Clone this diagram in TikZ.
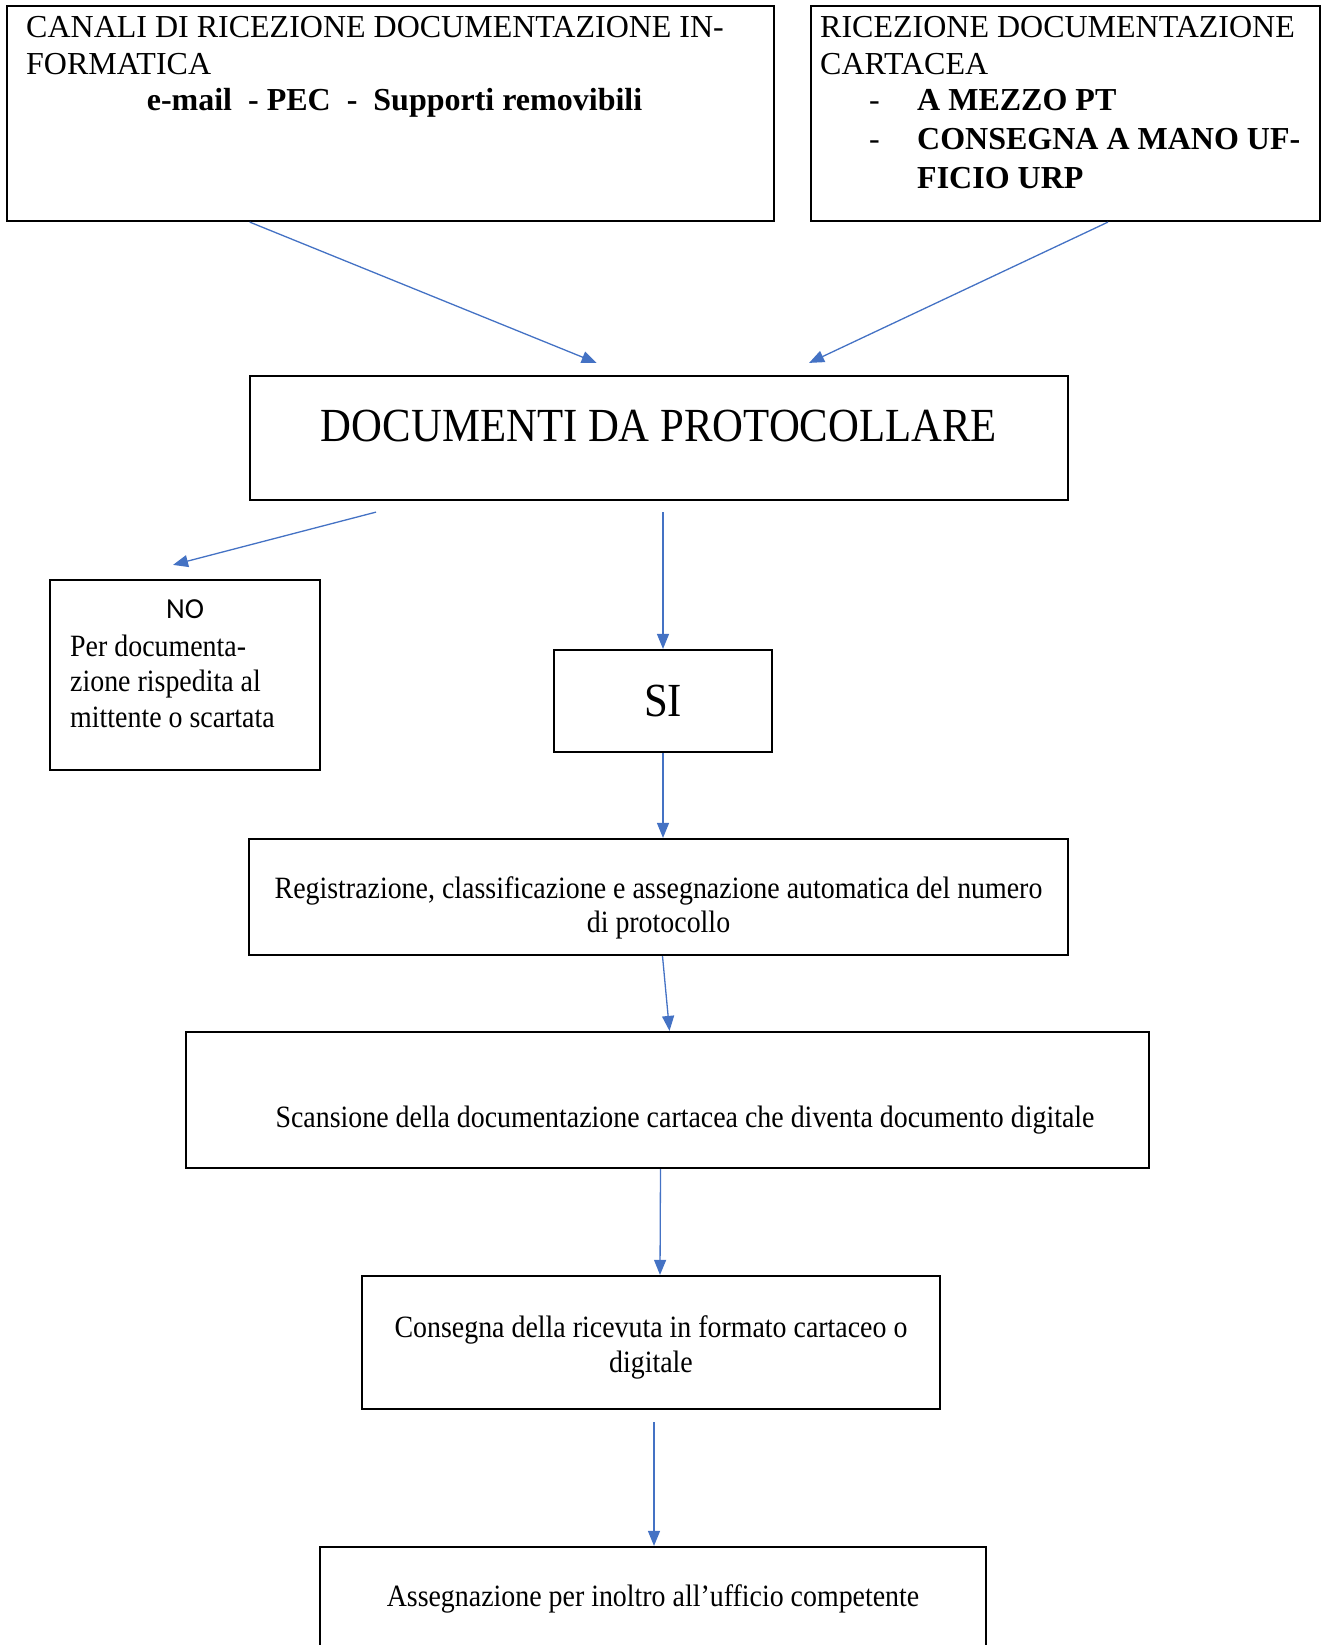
\documentclass[tikz,border=0pt]{standalone}
\usepackage{xcolor}
\usepackage{fontspec}
\setmainfont{Liberation Serif}
\newfontfamily\garfont[FakeStretch=0.9]{Liberation Serif}
\newfontfamily\calfont{Carlito}
\usetikzlibrary{arrows.meta,calc,positioning}
\definecolor{linkblue}{HTML}{4472C4}

\begin{document}
\begin{tikzpicture}[x=1pt,y=-1pt]
		\tikzstyle{every node}=[inner sep=0pt, font=\fontsize{32}{36}\selectfont]
		\tikzstyle{box}=[draw, line width=2.2pt]
		\tikzstyle{gar}=[font=\garfont\fontsize{31}{35}\selectfont]
		\tikzstyle{link}=[draw=linkblue, line width=1.3pt, -{Triangle[length=15pt,width=12pt]}]
		\useasboundingbox (0,0) rectangle (1324,1645);
		% ingresso
		\node [box, minimum width=767pt, minimum height=215pt] (canali) at (390.5,113.5) {};
		\node [box, minimum width=509pt, minimum height=215pt] (cartacea) at (1065.5,113.5) {};
		\node [anchor=base west] (canali1) at (26,38) {CANALI DI RICEZIONE DOCUMENTAZIONE IN-};
		\node [anchor=base west] (canali2) at (26,74.5) {FORMATICA};
		\node [anchor=base, font=\fontsize{32}{36}\selectfont\bfseries] (canali3) at (394.5,111) {e-mail\ \ -\ PEC\ \ -\ \ Supporti removibili};
		\node [anchor=base west] (cartacea1) at (820,38) {RICEZIONE DOCUMENTAZIONE};
		\node [anchor=base west] (cartacea2) at (820,74.5) {CARTACEA};
		\node [anchor=base west] (trattino1) at (869,111) {-};
		\node [anchor=base west] (trattino2) at (869,150) {-};
		\node [anchor=base west, font=\fontsize{32}{36}\selectfont\bfseries] (mezzo) at (917,111) {A MEZZO PT};
		\node [anchor=base west, font=\fontsize{32}{36}\selectfont\bfseries] (mano1) at (917,150) {CONSEGNA A MANO UF-};
		\node [anchor=base west, font=\fontsize{32}{36}\selectfont\bfseries] (mano2) at (917,189) {FICIO URP};
		% smistamento
		\node [box, minimum width=818pt, minimum height=124pt] (doc) at (659,438) {};
		\node [font=\garfont\fontsize{47.5}{50}\selectfont] (doctxt) at (659,426) {DOCUMENTI DA PROTOCOLLARE};
		\node [box, minimum width=270pt, minimum height=190pt] (no) at (185,675) {};
		\node [anchor=base, font=\calfont\fontsize{29}{32}\selectfont] (notitle) at (185,618) {NO};
		\node [anchor=base west, gar] (no1) at (70,656) {Per documenta-};
		\node [anchor=base west, gar] (no2) at (70,691) {zione rispedita al};
		\node [anchor=base west, gar] (no3) at (70,727) {mittente o scartata};
		\node [box, minimum width=218pt, minimum height=102pt, font=\garfont\fontsize{47.5}{50}\selectfont] (si) at (663,701) {SI};
		% protocollazione
		\node [box, minimum width=819pt, minimum height=116pt] (reg) at (658.5,897) {};
		\node [align=center, font=\garfont\fontsize{31}{33.5}\selectfont] (regtxt) at (658.5,908) {Registrazione, classificazione e assegnazione automatica del numero\\di protocollo};
		\node [box, minimum width=963pt, minimum height=136pt] (scan) at (667.5,1100) {};
		\node [gar] (scantxt) at (685,1120) {Scansione della documentazione cartacea che diventa documento digitale};
		\node [box, minimum width=578pt, minimum height=133pt] (cons) at (651,1342.5) {};
		\node [gar, align=center] (constxt) at (651,1347) {Consegna della ricevuta in formato cartaceo o\\digitale};
		\node [box, gar, minimum width=666pt, minimum height=104pt] (asseg) at (653,1599) {Assegnazione per inoltro all’ufficio competente};
		% frecce
		\draw [link] ($(canali.south west)!0.317!(canali.south east)$) -- ($(doc.north west)!0.424!(doc.north east)+(0,-12)$);
		\draw [link] ($(cartacea.south west)!0.583!(cartacea.south east)$) -- ($(doc.north west)!0.683!(doc.north east)+(0,-12)$);
		\draw [link] ($(doc.south west)!0.155!(doc.south east)+(0,11)$) -- ($(no.north west)!0.456!(no.north east)+(0,-14)$);
		\draw [link] ($(doc.south -| si.north)+(0,11)$) -- (si.north);
		\draw [link] (si.south) -- (si.south |- reg.north);
		\draw [link] ($(reg.south)+(4,0)$) -- ($(scan.north)+(2,0)$);
		\draw [link] ($(scan.south)+(-7,0)$) -- ($(cons.north)+(9,0)$);
		\draw [link] ($(cons.south)+(3,12)$) -- ($(asseg.north)+(1,0)$);
\end{tikzpicture}
\end{document}
